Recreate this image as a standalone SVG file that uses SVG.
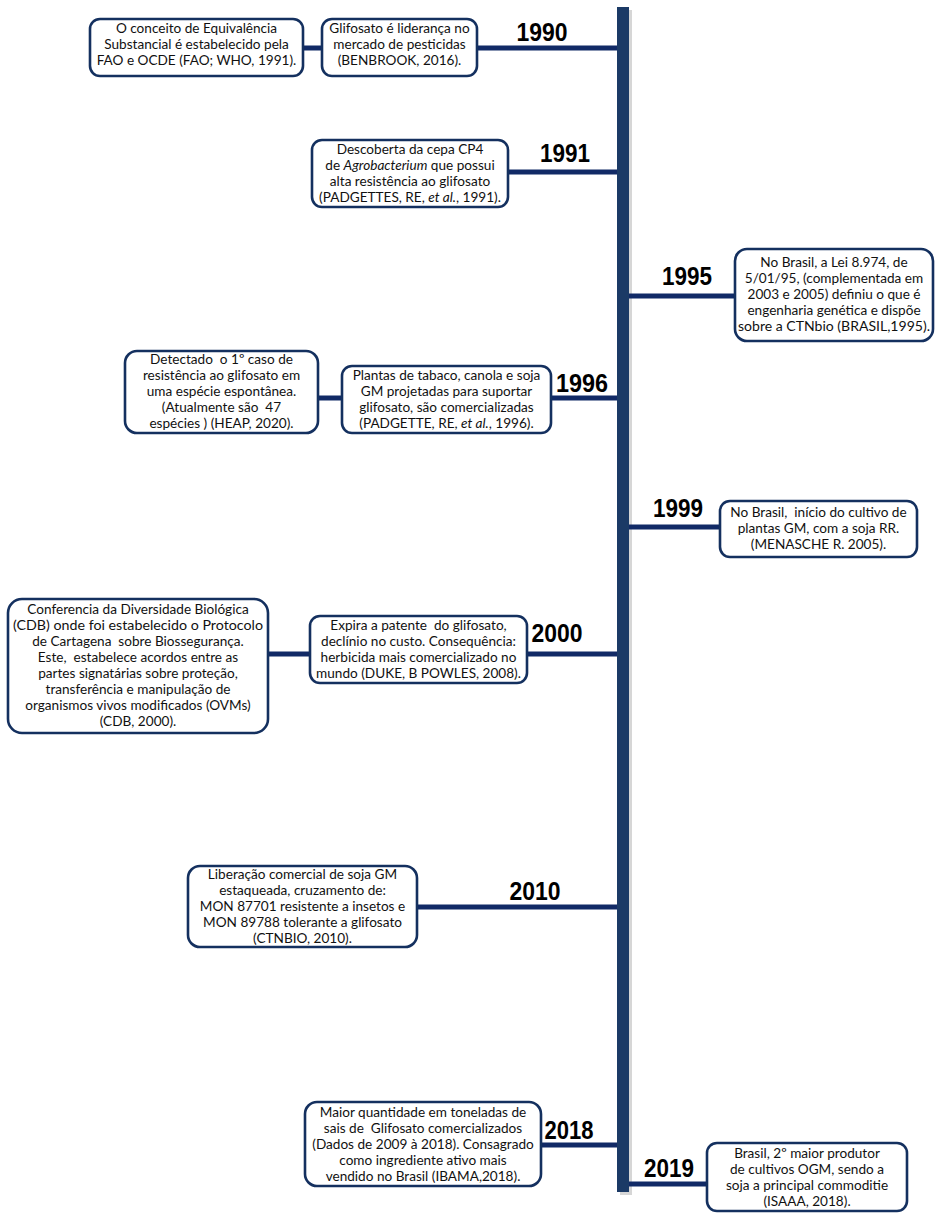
<svg xmlns="http://www.w3.org/2000/svg" width="935" height="1213" viewBox="0 0 935 1213">
<style>
.box{fill:#fff;stroke:#14305f;stroke-width:2.6}
.t{font-family:Lato,"Open Sans",sans-serif;font-size:13.6px;fill:#111;text-anchor:middle}
.yr{font-family:"Liberation Sans",Arial,sans-serif;font-weight:bold;font-size:26px;fill:#000;text-anchor:middle}
.ln{stroke:#112a66;stroke-width:5;fill:none}
.it{font-style:italic}
</style>
<rect width="935" height="1213" fill="#fff"/>
<g id="timeline">
<rect x="620" y="10" width="12" height="1185" fill="#bbb" opacity="0.6"/>
<rect x="617" y="7" width="12" height="1185" fill="#1b3a66"/>
</g>
<g id="connectors">
<line class="ln" x1="303" y1="48" x2="322" y2="48"/>
<line class="ln" x1="477" y1="48" x2="617" y2="48"/>
<line class="ln" x1="508" y1="172" x2="617" y2="172"/>
<line class="ln" x1="629" y1="296" x2="735" y2="296"/>
<line class="ln" x1="318" y1="398" x2="342" y2="398"/>
<line class="ln" x1="551" y1="398" x2="617" y2="398"/>
<line class="ln" x1="629" y1="527" x2="720" y2="527"/>
<line class="ln" x1="268" y1="654" x2="310" y2="654"/>
<line class="ln" x1="527" y1="654" x2="617" y2="654"/>
<line class="ln" x1="417" y1="907" x2="617" y2="907"/>
<line class="ln" x1="541" y1="1145" x2="617" y2="1145"/>
<line class="ln" x1="629" y1="1184" x2="707" y2="1184"/>
</g>
<g id="years">
<text class="yr" x="542" y="41" textLength="51" lengthAdjust="spacingAndGlyphs">1990</text>
<text class="yr" x="565" y="162" textLength="50" lengthAdjust="spacingAndGlyphs">1991</text>
<text class="yr" x="687" y="285" textLength="50" lengthAdjust="spacingAndGlyphs">1995</text>
<text class="yr" x="582" y="392" textLength="52" lengthAdjust="spacingAndGlyphs">1996</text>
<text class="yr" x="678" y="517" textLength="50" lengthAdjust="spacingAndGlyphs">1999</text>
<text class="yr" x="557" y="642" textLength="51" lengthAdjust="spacingAndGlyphs">2000</text>
<text class="yr" x="535" y="900" textLength="51" lengthAdjust="spacingAndGlyphs">2010</text>
<text class="yr" x="569" y="1139" textLength="49" lengthAdjust="spacingAndGlyphs">2018</text>
<text class="yr" x="669" y="1177" textLength="50" lengthAdjust="spacingAndGlyphs">2019</text>
</g>
<g id="n1990a">
<rect class="box" x="90" y="19" width="213" height="57" rx="10"/>
<text class="t" x="196.5" y="33">O conceito de Equivalência</text>
<text class="t" x="196.5" y="49">Substancial é estabelecido pela</text>
<text class="t" x="196.5" y="65">FAO e OCDE (FAO; WHO, 1991).</text>
</g>
<g id="n1990b">
<rect class="box" x="322" y="19" width="155" height="57" rx="10"/>
<text class="t" x="399.5" y="33">Glifosato é liderança no</text>
<text class="t" x="399.5" y="49">mercado de pesticidas</text>
<text class="t" x="399.5" y="65">(BENBROOK, 2016).</text>
</g>
<g id="n1991">
<rect class="box" x="312" y="140" width="196" height="67" rx="10"/>
<text class="t" x="410" y="154">Descoberta da cepa CP4</text>
<text class="t" x="410" y="170">de <tspan class="it">Agrobacterium</tspan> que possui</text>
<text class="t" x="410" y="186">alta resistência ao glifosato</text>
<text class="t" x="410" y="202">(PADGETTES, RE, <tspan class="it">et al.</tspan>, 1991).</text>
</g>
<g id="n1995">
<rect class="box" x="735" y="249" width="198" height="92" rx="12"/>
<text class="t" x="834" y="267">No Brasil, a Lei 8.974, de</text>
<text class="t" x="834" y="283">5/01/95, (complementada em</text>
<text class="t" x="834" y="299">2003 e 2005) definiu o que é</text>
<text class="t" x="834" y="315">engenharia genética e dispõe</text>
<text class="t" x="834" y="331" textLength="192" lengthAdjust="spacingAndGlyphs">sobre a CTNbio (BRASIL,1995).</text>
</g>
<g id="n1996a">
<rect class="box" x="125" y="351" width="193" height="82" rx="12"/>
<text class="t" x="221.5" y="364" xml:space="preserve">Detectado  o 1º caso de</text>
<text class="t" x="221.5" y="380">resistência ao glifosato em</text>
<text class="t" x="221.5" y="396">uma espécie espontânea.</text>
<text class="t" x="221.5" y="412" xml:space="preserve">(Atualmente são  47</text>
<text class="t" x="221.5" y="428">espécies ) (HEAP, 2020).</text>
</g>
<g id="n1996b">
<rect class="box" x="342" y="366" width="209" height="67" rx="10"/>
<text class="t" x="446.5" y="380">Plantas de tabaco, canola e soja</text>
<text class="t" x="446.5" y="396">GM projetadas para suportar</text>
<text class="t" x="446.5" y="412">glifosato, são comercializadas</text>
<text class="t" x="446.5" y="428">(PADGETTE, RE, <tspan class="it">et al.</tspan>, 1996).</text>
</g>
<g id="n1999">
<rect class="box" x="720" y="501" width="197" height="56" rx="10"/>
<text class="t" x="818.5" y="517" xml:space="preserve">No Brasil,  início do cultivo de</text>
<text class="t" x="818.5" y="533">plantas GM, com a soja RR.</text>
<text class="t" x="818.5" y="549">(MENASCHE R. 2005).</text>
</g>
<g id="n2000a">
<rect class="box" x="8" y="599" width="260" height="134" rx="14"/>
<text class="t" x="138" y="614">Conferencia da Diversidade Biológica</text>
<text class="t" x="138" y="630" textLength="250" lengthAdjust="spacingAndGlyphs">(CDB) onde foi estabelecido o Protocolo</text>
<text class="t" x="138" y="646" xml:space="preserve">de Cartagena  sobre Biossegurança.</text>
<text class="t" x="138" y="662" xml:space="preserve">Este,  estabelece acordos entre as</text>
<text class="t" x="138" y="678">partes signatárias sobre proteção,</text>
<text class="t" x="138" y="694">transferência e manipulação de</text>
<text class="t" x="138" y="710">organismos vivos modificados (OVMs)</text>
<text class="t" x="138" y="726">(CDB, 2000).</text>
</g>
<g id="n2000b">
<rect class="box" x="310" y="616" width="217" height="67" rx="10"/>
<text class="t" x="418.5" y="630" xml:space="preserve">Expira a patente  do glifosato,</text>
<text class="t" x="418.5" y="646">declínio no custo. Consequência:</text>
<text class="t" x="418.5" y="662">herbicida mais comercializado no</text>
<text class="t" x="418.5" y="678">mundo (DUKE, B POWLES, 2008).</text>
</g>
<g id="n2010">
<rect class="box" x="188" y="866" width="229" height="81" rx="12"/>
<text class="t" x="302.5" y="879">Liberação comercial de soja GM</text>
<text class="t" x="302.5" y="895">estaqueada, cruzamento de:</text>
<text class="t" x="302.5" y="911">MON 87701 resistente a insetos e</text>
<text class="t" x="302.5" y="927">MON 89788 tolerante a glifosato</text>
<text class="t" x="302.5" y="943">(CTNBIO, 2010).</text>
</g>
<g id="n2018">
<rect class="box" x="305" y="1102" width="236" height="84" rx="12"/>
<text class="t" x="423" y="1117">Maior quantidade em toneladas de</text>
<text class="t" x="423" y="1133" xml:space="preserve">sais de  Glifosato comercializados</text>
<text class="t" x="423" y="1149">(Dados de 2009 à 2018). Consagrado</text>
<text class="t" x="423" y="1165">como ingrediente ativo mais</text>
<text class="t" x="423" y="1181">vendido no Brasil (IBAMA,2018).</text>
</g>
<g id="n2019">
<rect class="box" x="707" y="1143" width="200" height="68" rx="10"/>
<text class="t" x="807" y="1158">Brasil, 2º maior produtor</text>
<text class="t" x="807" y="1174">de cultivos OGM, sendo a</text>
<text class="t" x="807" y="1190">soja a principal commoditie</text>
<text class="t" x="807" y="1206">(ISAAA, 2018).</text>
</g>
</svg>
